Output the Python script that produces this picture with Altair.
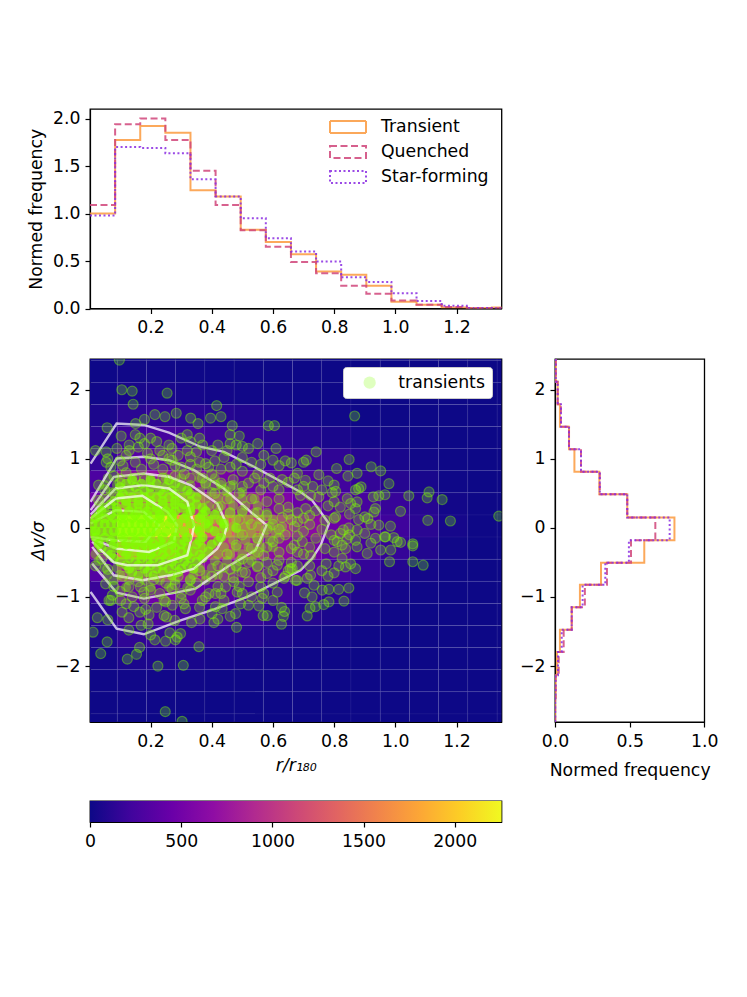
import altair as alt
import pandas as pd

GREEN = "#7fff00"
FS = 17.3

# top histogram, r / r180
hist_r_edges = [0.002, 0.0841, 0.1662, 0.2483, 0.3304, 0.4125, 0.4946, 0.5767, 0.6588, 0.7409,
                0.823, 0.9051, 0.9872, 1.0693, 1.1514, 1.2335, 1.3156, 1.3977]
transient_r = [1.0, 1.775, 1.92, 1.85, 1.245, 1.18, 0.83, 0.70, 0.57, 0.39, 0.355, 0.24, 0.07, 0.04, 0.01, 0.005, 0.01]
quenched_r = [1.09, 1.94, 2.0, 1.775, 1.45, 1.09, 0.825, 0.65, 0.49, 0.37, 0.24, 0.155, 0.085, 0.04, 0.015, 0.002, 0.002]
starform_r = [0.98, 1.70, 1.69, 1.635, 1.36, 1.18, 0.95, 0.74, 0.60, 0.495, 0.33, 0.28, 0.16, 0.08, 0.03, 0.005, 0.002]

# side histogram, dv / sigma, top to bottom
hist_v_edges = [2.445, 2.116, 1.79, 1.465, 1.14, 0.814, 0.488, 0.151, -0.178, -0.503, -0.824, -1.147, -1.474,
                -1.798, -2.135, -2.46, -2.81]
transient_v = [0.005, 0.018, 0.033, 0.094, 0.13, 0.297, 0.484, 0.80, 0.598, 0.308, 0.167, 0.112, 0.033, 0.013, 0.004, 0.001]
quenched_v = [0.005, 0.018, 0.04, 0.094, 0.174, 0.30, 0.484, 0.672, 0.509, 0.348, 0.20, 0.112, 0.058, 0.025, 0.004, 0.001]
starform_v = [0.005, 0.018, 0.04, 0.094, 0.174, 0.30, 0.484, 0.768, 0.495, 0.337, 0.185, 0.112, 0.045, 0.02, 0.004, 0.001]

# 2d density behind the points
heat_x_edges = [-0.0045, 0.091, 0.1865, 0.282, 0.3775, 0.473, 0.5685, 0.664, 0.7595, 0.855, 0.9505, 1.046,
                1.1415, 1.237, 1.3325, 1.428]
heat_y_edges = [2.747, 2.427, 2.107, 1.787, 1.467, 1.147, 0.827, 0.507, 0.187, -0.133, -0.453, -0.773, -1.093,
                -1.413, -1.733, -2.053, -2.373, -2.693, -3.013]
heat_rows = [
    [0, 5, 5, 0, 0, 0, 0, 0, 0, 0, 0, 0, 0, 0, 0],
    [5, 12, 15, 8, 5, 3, 0, 0, 0, 0, 0, 0, 0, 0, 0],
    [15, 40, 45, 30, 20, 15, 10, 5, 2, 0, 0, 0, 0, 0, 0],
    [50, 110, 130, 110, 90, 70, 40, 25, 15, 8, 3, 0, 0, 0, 0],
    [100, 210, 240, 220, 190, 150, 110, 70, 45, 25, 12, 5, 0, 0, 0],
    [160, 340, 380, 350, 290, 240, 210, 180, 130, 85, 40, 12, 3, 0, 0],
    [280, 640, 690, 620, 520, 450, 370, 300, 220, 150, 90, 40, 8, 0, 0],
    [480, 1150, 1200, 1050, 860, 740, 570, 450, 340, 250, 170, 90, 20, 2, 0],
    [900, 2250, 2150, 1700, 1300, 1080, 850, 640, 460, 320, 210, 110, 30, 3, 0],
    [620, 1500, 1500, 1220, 980, 830, 640, 500, 370, 250, 160, 70, 15, 1, 0],
    [320, 800, 840, 730, 620, 520, 410, 330, 240, 150, 80, 25, 5, 0, 0],
    [180, 430, 480, 420, 350, 290, 230, 170, 120, 65, 25, 8, 0, 0, 0],
    [100, 250, 280, 250, 200, 160, 120, 80, 50, 25, 10, 0, 0, 0, 0],
    [50, 130, 150, 130, 100, 75, 50, 30, 15, 8, 0, 0, 0, 0, 0],
    [20, 50, 55, 45, 30, 20, 12, 6, 2, 0, 0, 0, 0, 0, 0],
    [6, 15, 18, 12, 8, 4, 2, 0, 0, 0, 0, 0, 0, 0, 0],
    [2, 5, 6, 3, 1, 0, 0, 0, 0, 0, 0, 0, 0, 0, 0],
    [0, 0, 0, 0, 0, 0, 0, 0, 0, 0, 0, 0, 0, 0, 0],
]

# contour levels, outer to inner
contours = [
    [(0.004, 0.93), (0.089, 1.51), (0.178, 1.49), (0.26, 1.38), (0.363, 1.175), (0.44, 1.10), (0.538, 0.885),
     (0.69, 0.52), (0.728, 0.40), (0.783, 0.064), (0.756, -0.25), (0.728, -0.444), (0.69, -0.613), (0.603, -0.806),
     (0.516, -0.999), (0.407, -1.178), (0.298, -1.338), (0.178, -1.54), (0.089, -1.459), (0.004, -0.927)],
    [(0.004, 0.377), (0.089, 1.005), (0.178, 1.03), (0.26, 0.98), (0.342, 0.836), (0.44, 0.57), (0.527, 0.232),
     (0.579, 0.04), (0.565, -0.106), (0.543, -0.323), (0.45, -0.565), (0.347, -0.879), (0.265, -0.951),
     (0.178, -1.024), (0.089, -0.937), (0.009, -0.517)],
    [(0.004, 0.257), (0.08, 0.74), (0.178, 0.788), (0.26, 0.74), (0.331, 0.619), (0.418, 0.353), (0.45, 0.04),
     (0.44, -0.13), (0.418, -0.3), (0.342, -0.589), (0.265, -0.686), (0.173, -0.758), (0.08, -0.686), (0.009, -0.275)],
    [(0.004, 0.194), (0.086, 0.571), (0.178, 0.619), (0.26, 0.571), (0.32, 0.377), (0.342, 0.04), (0.336, -0.106),
     (0.32, -0.396), (0.222, -0.541), (0.124, -0.541), (0.08, -0.5), (0.009, -0.2)],
    [(0.004, 0.136), (0.086, 0.426), (0.173, 0.464), (0.255, 0.232), (0.287, 0.04), (0.276, -0.2), (0.195, -0.348),
     (0.09, -0.3), (0.009, -0.164)],
    [(0.004, 0.064), (0.086, 0.257), (0.178, 0.232), (0.227, 0.04), (0.184, -0.2), (0.08, -0.178), (0.004, -0.13)],
]

# transients
pts_upper = [(0.098, 2.43), (0.106, 2.0), (0.14, 1.98), (0.254, 1.95), (0.143, 1.79), (0.416, 1.77), (0.214, 1.64),
             (0.247, 1.61), (0.284, 1.66), (0.331, 1.59), (0.355, 1.51), (0.396, 1.59), (0.43, 1.61), (0.18, 1.57),
             (0.151, 1.51), (0.058, 1.45), (0.467, 1.48), (0.585, 1.48), (0.605, 1.48), (0.104, 1.33), (0.15, 1.35),
             (0.165, 1.3), (0.2, 1.3), (0.22, 1.25), (0.18, 1.22), (0.13, 1.2), (0.09, 1.15), (0.02, 1.12),
             (0.055, 1.1), (0.055, 0.95), (0.12, 1.05), (0.26, 1.2), (0.27, 1.15), (0.3, 1.3), (0.32, 1.35),
             (0.33, 1.25), (0.36, 1.3), (0.37, 1.2), (0.35, 1.1), (0.29, 1.05), (0.26, 1.0), (0.36, 0.95), (0.38, 0.93),
             (0.41, 0.97), (0.44, 1.02), (0.46, 1.35), (0.49, 1.33), (0.46, 1.22), (0.48, 1.2), (0.5, 1.18),
             (0.52, 1.15), (0.55, 1.22), (0.57, 1.05), (0.61, 1.15), (0.64, 0.97), (0.66, 0.94), (0.1, 0.97),
             (0.06, 1.0), (0.03, 0.62), (0.05, 0.55), (0.08, 0.75), (0.12, 0.8), (0.15, 0.95), (0.17, 0.85),
             (0.19, 1.08), (0.21, 0.92), (0.24, 0.85), (0.27, 0.98), (0.3, 0.88), (0.31, 0.78), (0.33, 0.92),
             (0.35, 0.85), (0.37, 0.72), (0.4, 0.78), (0.43, 0.65), (0.46, 0.88), (0.47, 0.7), (0.5, 0.82),
             (0.52, 0.65), (0.55, 0.78), (0.56, 0.55), (0.59, 0.72), (0.6, 0.6), (0.62, 0.42), (0.65, 0.66),
             (0.68, 0.55), (0.53, 0.42), (0.49, 0.5), (0.45, 0.42), (0.41, 0.5), (0.58, 0.38), (0.65, 0.3)]
pts_right = [(0.867, 1.62), (0.741, 1.10), (0.709, 0.98), (0.70, 0.95), (0.849, 0.99), (0.808, 0.86), (0.921, 0.885),
             (0.952, 0.825), (0.75, 0.77), (0.845, 0.75), (0.875, 0.79), (0.68, 0.79), (0.706, 0.69), (0.979, 0.64),
             (1.044, 0.465), (1.11, 0.52), (1.104, 0.435), (1.153, 0.41), (1.338, 0.17), (1.106, 0.11), (1.18, 0.10),
             (1.017, 0.24), (0.966, 0.48), (0.946, 0.465), (0.928, 0.45), (0.888, 0.595), (0.87, 0.55), (0.88, 0.57),
             (0.805, 0.53), (0.794, 0.51), (0.75, 0.45), (0.723, 0.47), (0.69, 0.47), (0.843, 0.425), (0.875, 0.377),
             (0.854, 0.353), (0.87, 0.28), (0.93, 0.23), (0.935, 0.28), (0.91, 0.135), (0.90, 0.16), (0.946, 0.04),
             (0.984, 0.025), (0.965, -0.13), (0.995, -0.14), (1.017, -0.21), (1.057, -0.23), (0.935, -0.15),
             (0.805, 0.16), (0.80, 0.14), (0.77, 0.11), (0.707, 0.28), (0.70, 0.14), (0.68, 0.09), (0.83, -0.03),
             (0.82, -0.08), (0.848, 0.0), (0.875, -0.03), (0.79, -0.1), (0.80, -0.18), (0.85, -0.1), (0.87, -0.18),
             (0.968, -0.13), (1.006, -0.2), (1.057, -0.26), (1.057, -0.49), (1.091, -0.54), (0.981, -0.49),
             (0.985, -0.32), (0.952, -0.32), (0.908, -0.37), (0.87, -0.59), (0.854, -0.52), (0.826, -0.44),
             (0.837, -0.565), (0.815, -0.55), (0.774, -0.52), (0.848, -0.87), (0.815, -0.89), (0.832, -1.06),
             (0.783, -1.07), (0.766, -1.11), (0.739, -1.14), (0.721, -1.16), (0.712, -1.275), (0.783, -0.89),
             (0.761, -0.90), (0.734, -0.83), (0.703, -0.94), (0.728, -1.0), (0.723, -0.685), (0.679, -0.76),
             (0.712, -0.73), (0.663, -0.59), (0.826, -0.25), (0.837, -0.3), (0.875, -0.275), (0.81, -0.2),
             (0.843, -0.155), (0.723, -0.4), (0.696, -0.2), (0.68, -0.35), (0.67, -0.25)]
pts_lower = [(0.248, -2.66), (0.303, -2.8), (0.224, -2.0), (0.307, -1.99), (0.124, -1.90), (0.154, -1.83),
             (0.037, -1.82), (0.164, -1.73), (0.058, -1.65), (0.358, -1.72), (0.012, -1.51), (0.129, -1.48),
             (0.192, -1.39), (0.169, -1.41), (0.2, -1.55), (0.214, -1.62), (0.249, -1.64), (0.281, -1.62),
             (0.298, -1.53), (0.263, -1.52), (0.287, -1.58), (0.026, -1.30), (0.06, -1.33), (0.107, -1.22),
             (0.129, -1.30), (0.145, -1.14), (0.165, -1.22), (0.195, -1.26), (0.184, -1.18), (0.244, -1.27),
             (0.252, -1.29), (0.279, -1.34), (0.334, -1.37), (0.361, -1.32), (0.407, -1.37), (0.42, -1.32),
             (0.481, -1.44), (0.478, -1.24), (0.494, -1.1), (0.434, -1.17), (0.412, -1.14), (0.401, -1.24),
             (0.554, -1.13), (0.565, -1.02), (0.568, -1.27), (0.581, -1.27), (0.628, -1.15), (0.638, -1.21),
             (0.634, -1.28), (0.628, -1.395), (0.07, -1.05), (0.064, -1.05), (0.075, -0.975), (0.102, -1.05),
             (0.249, -1.07), (0.271, -1.12), (0.309, -1.1), (0.314, -1.17), (0.244, -1.05), (0.178, -0.93),
             (0.129, -0.855), (0.167, -0.855), (0.053, -0.81), (0.369, -1.05), (0.391, -0.95), (0.412, -0.95),
             (0.445, -0.855), (0.472, -0.78), (0.483, -0.93), (0.56, -0.855), (0.614, -0.93), (0.5, -0.64),
             (0.581, -0.66), (0.549, -0.565), (0.614, -0.54), (0.636, -0.73), (0.674, -0.76), (0.657, -0.59)]
pts_middle = [(0.63, 0.15), (0.55, 0.22), (0.5, 0.25), (0.6, 0.05), (0.68, 0.22), (0.72, 0.18), (0.67, 0.02),
              (0.7, -0.05), (0.64, -0.1), (0.58, -0.02), (0.53, 0.05), (0.49, 0.12), (0.46, 0.22), (0.42, 0.3),
              (0.5, -0.1), (0.55, -0.15), (0.6, -0.2), (0.66, -0.3), (0.7, -0.38), (0.62, -0.35), (0.57, -0.4),
              (0.53, -0.3), (0.48, -0.25), (0.45, -0.38), (0.5, -0.45), (0.42, -0.55), (0.46, -0.6), (0.51, -0.65),
              (0.56, -0.72), (0.6, -0.62), (0.66, -0.5), (0.4, -0.7), (0.36, -0.62), (0.33, -0.75), (0.29, -0.7),
              (0.25, -0.8), (0.21, -0.75), (0.16, -0.78), (0.11, -0.7), (0.08, -0.85), (0.06, -0.6), (0.04, -0.45),
              (0.02, -0.55), (0.03, 0.4), (0.08, 0.5), (0.33, -0.9), (0.3, -0.95), (0.27, -0.88), (0.23, -0.95),
              (0.2, -0.9), (0.14, -1.0), (0.1, -0.92), (0.42, -0.85), (0.38, -1.0), (0.49, -0.85), (0.53, -1.0),
              (0.6, -0.8), (0.64, -0.7)]
pts_extra = [(0.13, 1.12), (0.16, 1.17), (0.23, 1.12), (0.24, 1.05), (0.32, 1.12), (0.33, 1.03), (0.4, 1.12),
             (0.42, 1.2), (0.45, 1.12), (0.5, 1.02), (0.53, 0.95), (0.6, 0.98), (0.62, 0.9), (0.07, 0.88), (0.11, 0.9),
             (0.2, 1.0), (0.28, 0.9), (0.39, 0.88), (0.43, 0.85), (0.48, 0.92), (0.56, 0.92), (0.1, 0.65), (0.15, 0.72),
             (0.18, 0.7), (0.24, 0.72), (0.28, 0.75), (0.33, 0.72), (0.38, 0.65), (0.41, 0.62), (0.44, 0.55),
             (0.46, 0.6), (0.5, 0.6), (0.54, 0.72), (0.57, 0.65), (0.62, 0.55), (0.63, 0.7), (0.67, 0.72), (0.7, 0.6),
             (0.73, 0.6), (0.76, 0.55), (0.8, 0.62), (0.78, 0.68), (0.44, -0.7), (0.48, -0.55), (0.52, -0.5),
             (0.55, -0.55), (0.58, -0.5), (0.62, -0.47), (0.65, -0.62), (0.68, -0.55), (0.72, -0.55), (0.76, -0.62),
             (0.78, -0.7), (0.8, -0.65), (0.47, -0.72), (0.52, -0.78), (0.43, -0.95), (0.5, -0.95), (0.57, -0.95),
             (0.6, -1.05), (0.35, -0.8), (0.28, -0.82), (0.18, -1.02), (0.12, -1.1), (0.22, -1.15), (0.3, -1.02),
             (0.36, -1.15), (0.44, -1.05), (0.46, -1.28), (0.52, -1.12), (0.62, 0.28), (0.66, 0.12), (0.72, 0.05),
             (0.76, -0.02), (0.74, 0.25), (0.78, 0.32), (0.8, 0.38), (0.82, 0.3), (0.85, 0.2), (0.88, 0.12),
             (0.92, 0.05), (0.74, -0.15), (0.77, -0.3), (0.8, -0.35), (0.72, -0.28), (0.68, -0.12), (0.62, -0.02),
             (0.65, 0.2), (0.58, 0.18), (0.9, -0.08), (0.92, -0.22), (0.62, -0.15), (0.58, -0.28), (0.55, -0.35)]
# the crowded middle, one row per dv
core_inner = {
    0.06: [0.01, 0.03, 0.05, 0.07, 0.09, 0.11, 0.13, 0.15, 0.17, 0.19, 0.21, 0.23, 0.26, 0.29, 0.33, 0.38, 0.44],
    -0.05: [0.01, 0.02, 0.04, 0.06, 0.08, 0.10, 0.12, 0.14, 0.16, 0.18, 0.20, 0.22, 0.25, 0.28, 0.31, 0.36, 0.41],
    0.14: [0.02, 0.05, 0.08, 0.11, 0.14, 0.17, 0.20, 0.23, 0.27, 0.31, 0.36],
    -0.14: [0.02, 0.05, 0.08, 0.11, 0.14, 0.17, 0.20, 0.24, 0.28, 0.32, 0.37, 0.43],
    0.24: [0.04, 0.09, 0.13, 0.16, 0.19, 0.22, 0.25, 0.28, 0.33, 0.38],
    -0.24: [0.03, 0.08, 0.12, 0.15, 0.18, 0.21, 0.24, 0.27, 0.30, 0.35, 0.40],
}
core_outer = {
    0.34: [0.07, 0.12, 0.16, 0.2, 0.24, 0.28, 0.31, 0.35],
    -0.34: [0.06, 0.11, 0.15, 0.19, 0.22, 0.26, 0.3, 0.34, 0.39],
    0.44: [0.1, 0.14, 0.18, 0.22, 0.26, 0.3, 0.35],
    -0.44: [0.08, 0.13, 0.17, 0.21, 0.25, 0.29, 0.33, 0.37],
    0.54: [0.13, 0.18, 0.23, 0.27, 0.32],
    -0.54: [0.12, 0.16, 0.2, 0.24, 0.28, 0.32],
    0.64: [0.12, 0.17, 0.22, 0.28],
    -0.64: [0.14, 0.19, 0.24, 0.29],
    0.29: [0.05, 0.09, 0.14, 0.18, 0.22, 0.26, 0.3, 0.33, 0.37],
    0.39: [0.08, 0.12, 0.16, 0.2, 0.24, 0.28, 0.33],
    0.49: [0.11, 0.16, 0.2, 0.24, 0.28, 0.33],
    0.59: [0.1, 0.15, 0.2, 0.25, 0.3],
    0.69: [0.14, 0.2, 0.26],
    -0.29: [0.04, 0.09, 0.13, 0.17, 0.21, 0.24, 0.28, 0.32, 0.37],
    -0.39: [0.07, 0.12, 0.17, 0.2, 0.24, 0.28, 0.32, 0.36],
    -0.49: [0.1, 0.15, 0.19, 0.23, 0.27, 0.31, 0.35],
    -0.59: [0.13, 0.18, 0.22, 0.26, 0.3, 0.34],
    -0.69: [0.16, 0.21, 0.27],
    0.19: [0.03, 0.07, 0.11, 0.15, 0.19, 0.23, 0.27, 0.32, 0.37, 0.41],
    -0.19: [0.03, 0.07, 0.11, 0.15, 0.19, 0.23, 0.27, 0.31, 0.36, 0.42],
    0.1: [0.39, 0.43],
    0.0: [0.35, 0.39, 0.44, 0.48],
}
core_fringe = {
    0.72: [0.06, 0.1, 0.14, 0.2, 0.25, 0.3, 0.36, 0.41],
    0.62: [0.05, 0.09, 0.33, 0.38, 0.43, 0.47],
    0.52: [0.07, 0.1, 0.36, 0.4, 0.45, 0.5],
    0.42: [0.05, 0.38, 0.42, 0.46, 0.5, 0.54],
    0.32: [0.03, 0.39, 0.43, 0.47, 0.51, 0.55],
    0.22: [0.42, 0.46, 0.5, 0.54, 0.58],
    0.12: [0.4, 0.44, 0.48, 0.52, 0.56, 0.6],
    0.02: [0.47, 0.51, 0.55, 0.59, 0.63],
    -0.08: [0.45, 0.49, 0.53, 0.57, 0.61],
    -0.18: [0.47, 0.51, 0.55, 0.59],
    -0.28: [0.44, 0.48, 0.52, 0.56, 0.6],
    -0.38: [0.02, 0.42, 0.46, 0.5, 0.54],
    -0.48: [0.03, 0.41, 0.45, 0.49, 0.53],
    -0.58: [0.05, 0.09, 0.36, 0.4, 0.44, 0.48],
    -0.68: [0.06, 0.1, 0.34, 0.38, 0.42],
    -0.76: [0.08, 0.13, 0.18, 0.23, 0.28, 0.33, 0.38],
    -0.86: [0.12, 0.2, 0.26, 0.32],
}

plasma_stops = ["#0d0887", "#41049d", "#6a00a8", "#8f0da4", "#b12a90", "#cc4778", "#e16462", "#f1844b", "#fca636",
                "#fcce25", "#f0f921"]
cbar_lo = [0]
cbar_hi = [2256]

series_names = ["Transient", "Quenched", "Star-forming"]
series_colors = ["#fb9a3e", "#d0457a", "#8a2be2"]
series_dash = [[1, 0], [7, 3.5], [2, 2.5]]
R_DOMAIN = [0.002, 1.347]
V_DOMAIN = [-2.81, 2.445]
MAIN_W, MAIN_H = 411.5, 363

rows = []
for name, vals in zip(series_names, [transient_r, quenched_r, starform_r]):
    for e, v in zip(hist_r_edges, vals + vals[-1:]):
        rows.append({"series": name, "edge": e, "freq": v})
top_df = pd.DataFrame(rows)

rows = []
for name, vals in zip(series_names, [transient_v, quenched_v, starform_v]):
    for i, (e, v) in enumerate(zip(hist_v_edges, vals + vals[-1:])):
        rows.append({"series": name, "edge": e, "freq": v, "i": i})
side_df = pd.DataFrame(rows)

rows = []
for j, row in enumerate(heat_rows):
    for i, n in enumerate(row):
        rows.append({"x0": heat_x_edges[i], "x1": heat_x_edges[i + 1], "y0": heat_y_edges[j + 1],
                     "y1": heat_y_edges[j], "n": n})
heat_df = pd.DataFrame(rows)

rows = []
for c, line in enumerate(contours):
    for i, (r, v) in enumerate(line):
        rows.append({"level": c, "i": i, "r": r, "dv": v})
contour_df = pd.DataFrame(rows)

scatter_df = pd.DataFrame(pts_upper + pts_right + pts_lower + pts_middle + pts_extra, columns=["r", "dv"])
scatter_df["kind"] = "transients"


def rows_to_df(d):
    return pd.DataFrame([(r, v) for v, rs in d.items() for r in rs], columns=["r", "dv"])


r_ticks = [0.2, 0.4, 0.6, 0.8, 1.0, 1.2]
minus = "replace(datum.label, '-', '\u2212')"
x_r = alt.X("r:Q", scale=alt.Scale(domain=R_DOMAIN, nice=False, zero=False),
            axis=alt.Axis(values=r_ticks, format=".1f", title="r/r\u2081\u2088\u2080", titleFontStyle="italic"))
y_v = alt.Y("dv:Q", scale=alt.Scale(domain=V_DOMAIN, nice=False, zero=False),
            axis=alt.Axis(values=[-2, -1, 0, 1, 2], labelExpr=minus, title="\u0394v/\u03c3", titleFontStyle="italic"))

top_legend = alt.Legend(title=None, orient="none", legendX=245, legendY=5, symbolType="M-1.5,-0.5H1.5V0.5H-1.5Z",
                        symbolSize=576, symbolStrokeWidth=2, symbolOpacity=0.85, symbolFillColor="transparent",
                        labelFontSize=FS, labelOffset=20, rowPadding=2)

top = alt.Chart(top_df).mark_line(interpolate="step-after", strokeWidth=2, opacity=0.85, clip=True).encode(
    x=alt.X("edge:Q", scale=alt.Scale(domain=R_DOMAIN, nice=False, zero=False),
            axis=alt.Axis(values=r_ticks, format=".1f", title=None)),
    y=alt.Y("freq:Q", scale=alt.Scale(domain=[0, 2.1], nice=False),
            axis=alt.Axis(values=[0, 0.5, 1, 1.5, 2], format=".1f", title="Normed frequency")),
    color=alt.Color("series:N", scale=alt.Scale(domain=series_names, range=series_colors), legend=top_legend),
    strokeDash=alt.StrokeDash("series:N", scale=alt.Scale(domain=series_names, range=series_dash), legend=top_legend),
).properties(width=MAIN_W, height=199.5)

heat = alt.Chart(heat_df).mark_rect(clip=True, stroke="white", strokeWidth=0.8, strokeOpacity=0.06).encode(
    x=alt.X("x0:Q", scale=alt.Scale(domain=R_DOMAIN, nice=False, zero=False),
            axis=alt.Axis(values=r_ticks, format=".1f", title="r/r\u2081\u2088\u2080", titleFontStyle="italic")),
    x2="x1:Q",
    y=alt.Y("y0:Q", scale=alt.Scale(domain=V_DOMAIN, nice=False, zero=False),
            axis=alt.Axis(values=[-2, -1, 0, 1, 2], labelExpr=minus, title="\u0394v/\u03c3", titleFontStyle="italic")),
    y2="y1:Q",
    fill=alt.Fill("n:Q", scale=alt.Scale(scheme="plasma", domain=[0, 2256]), legend=None),
)

contour = alt.Chart(contour_df).mark_line(color="white", opacity=0.72, strokeWidth=2.4, clip=True).encode(
    x=x_r, y=y_v, detail="level:N", order="i:Q")

points = alt.Chart(scatter_df).mark_circle(size=100, clip=True, opacity=1, fillOpacity=0.26, stroke=GREEN,
                                           strokeWidth=1.2, strokeOpacity=0.4).encode(
    x=x_r, y=y_v,
    color=alt.Color("kind:N", scale=alt.Scale(domain=["transients"], range=[GREEN]),
                    legend=alt.Legend(title=None, orient="none", legendX=253, legendY=8, fillColor="white",
                                      strokeColor="#cccccc", cornerRadius=3, padding=7, labelFontSize=FS,
                                      labelOffset=20, symbolSize=150, symbolOpacity=0.25, symbolStrokeWidth=0,
                                      symbolOffset=11)),
)
core_in = alt.Chart(rows_to_df(core_inner)).mark_circle(size=100, clip=True, opacity=0.75, color=GREEN).encode(x=x_r, y=y_v)
core_out = alt.Chart(rows_to_df(core_outer)).mark_circle(size=100, clip=True, opacity=0.7, color=GREEN).encode(x=x_r, y=y_v)
core_frg = alt.Chart(rows_to_df(core_fringe)).mark_circle(size=100, clip=True, opacity=0.38, color=GREEN).encode(x=x_r, y=y_v)

main = alt.layer(heat, core_frg, core_out, contour, points, core_in).resolve_scale(color="independent").properties(
    width=MAIN_W, height=MAIN_H)

side = alt.Chart(side_df).mark_line(interpolate="step-before", strokeWidth=2, opacity=0.85, clip=True).encode(
    x=alt.X("freq:Q", scale=alt.Scale(domain=[0, 1.0], nice=False),
            axis=alt.Axis(values=[0, 0.5, 1.0], format=".1f", title="Normed frequency", titlePadding=12)),
    y=alt.Y("edge:Q", scale=alt.Scale(domain=V_DOMAIN, nice=False, zero=False),
            axis=alt.Axis(values=[-2, -1, 0, 1, 2], labelExpr=minus, title=None)),
    color=alt.Color("series:N", scale=alt.Scale(domain=series_names, range=series_colors), legend=None),
    strokeDash=alt.StrokeDash("series:N", scale=alt.Scale(domain=series_names, range=series_dash), legend=None),
    order="i:Q",
).properties(width=149.3, height=MAIN_H)

cbar_df = pd.DataFrame({"lo": cbar_lo, "hi": cbar_hi})
cbar_fill = alt.Gradient(gradient="linear", x1=0, x2=1, y1=0, y2=0,
                         stops=[alt.GradientStop(offset=i / (len(plasma_stops) - 1), color=c)
                                for i, c in enumerate(plasma_stops)])
cbar = alt.Chart(cbar_df).mark_rect(color=cbar_fill).encode(
    x=alt.X("lo:Q", scale=alt.Scale(domain=[0, 2256], nice=False),
            axis=alt.Axis(values=[0, 500, 1000, 1500, 2000], format="d", title=None)),
    x2="hi:Q",
).properties(width=MAIN_W, height=21)

middle = alt.hconcat(main, side, spacing=53, bounds="flush")
upper = alt.vconcat(top, middle, spacing=50, bounds="flush")
chart = alt.vconcat(upper, cbar, spacing=20).properties(
    background="white",
    padding={"left": 18, "top": 100, "right": 5, "bottom": 5}
).configure_view(stroke="black", strokeWidth=1.3).configure_axis(
    grid=False, domainColor="black", tickColor="black", labelColor="black", titleColor="black", domainWidth=1.2,
    tickWidth=1.2, tickSize=5, labelFontSize=FS, titleFontSize=FS, labelFont="DejaVu Sans", titleFont="DejaVu Sans",
    titleFontWeight="normal", labelPadding=5, titlePadding=7.5, labelFlush=False,
).configure_legend(labelFont="DejaVu Sans", labelColor="black")

chart.save("out.html", embed_options={"renderer": "svg", "actions": False})
